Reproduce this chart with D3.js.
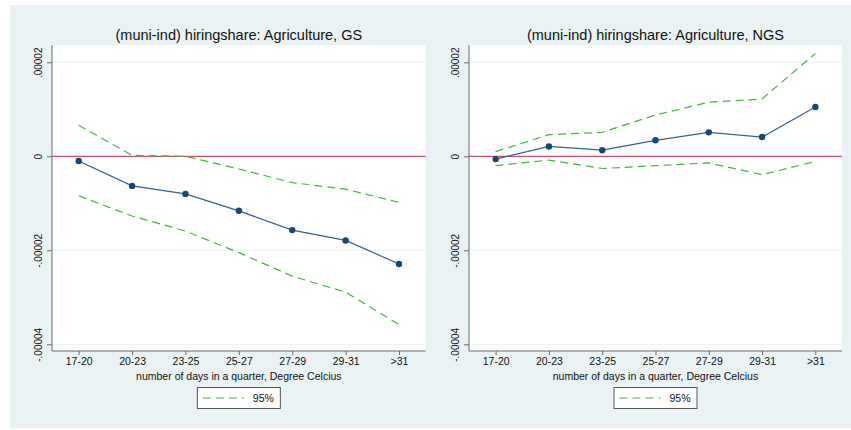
<!DOCTYPE html>
<html>
<head>
<meta charset="utf-8">
<script src="https://cdn.jsdelivr.net/npm/d3@7"></script>
<style>
  body { margin: 0; background: #fff; }
  text { font-family: "Liberation Sans", Arial, sans-serif; fill: #111; }
</style>
</head>
<body>
<div id="chart"></div>
<script>
// categories on the x axis
var categories = ["17-20", "20-23", "23-25", "25-27", "27-29", "29-31", ">31"];

// y ticks
var yTicks = [0.00002, 0, -0.00002, -0.00004];
var yTickLabels = [".00002", "0", "-.00002", "-.00004"];

// GS panel
var gsEstimate = [-0.0000010, -0.0000063, -0.0000080, -0.0000116, -0.0000157, -0.0000179, -0.0000229];
var gsUpper    = [ 0.0000066,  0.0000002,  0.0000000, -0.0000027, -0.0000056, -0.0000070, -0.0000098];
var gsLower    = [-0.0000084, -0.0000127, -0.0000159, -0.0000205, -0.0000255, -0.0000289, -0.0000358];

// NGS panel
var ngsEstimate = [-0.0000006, 0.0000021, 0.0000013, 0.0000034, 0.0000051, 0.0000041, 0.0000105];
var ngsUpper    = [ 0.0000010, 0.0000046, 0.0000051, 0.0000088, 0.0000115, 0.0000122, 0.0000219];
var ngsLower    = [-0.0000020, -0.0000008, -0.0000026, -0.0000020, -0.0000014, -0.0000039, -0.0000011];

var width = 851, height = 430;

var svg = d3.select("#chart").append("svg")
    .attr("width", width)
    .attr("height", height);

// stata style background
svg.append("rect")
    .attr("x", 10).attr("y", 5)
    .attr("width", 841).attr("height", 423)
    .attr("fill", "#eaf2f3");

var plotTop = 45, plotBottom = 351;

var drawPanel = function(options) {

    var left = options.left, right = options.right;
    var g = svg.append("g");

    var x = d3.scalePoint()
        .domain(categories)
        .range([left, right])
        .padding(0.5);

    var y = d3.scaleLinear()
        .domain([-0.00004, 0.00002])
        .range([344.3, 62.3]);

    // plot region
    g.append("rect")
        .attr("x", left).attr("y", plotTop)
        .attr("width", right - left).attr("height", plotBottom - plotTop)
        .attr("fill", "#fff");

    // gridlines
    g.selectAll(".grid")
        .data(yTicks.filter(function(d) { return d !== 0; }))
        .enter().append("line")
        .attr("x1", left).attr("x2", right)
        .attr("y1", function(d) { return y(d); })
        .attr("y2", function(d) { return y(d); })
        .attr("stroke", "#eaf2f3")
        .attr("stroke-width", 1);

    // zero line
    g.append("line")
        .attr("x1", left).attr("x2", right)
        .attr("y1", y(0)).attr("y2", y(0))
        .attr("stroke", "#d2506e")
        .attr("stroke-width", 1.2);

    // y axis
    var yAxis = d3.axisLeft(y)
        .tickValues(yTicks)
        .tickSize(5)
        .tickFormat(function(d, i) { return yTickLabels[i]; });

    var yg = g.append("g")
        .attr("transform", "translate(" + left + ",0)")
        .call(yAxis);
    yg.select(".domain").attr("d", "M0," + plotTop + "V" + plotBottom);
    yg.selectAll("path, line").attr("stroke", "#6b6b6b");
    yg.selectAll(".tick text")
        .attr("font-size", 10)
        .attr("x", 0).attr("dy", 0)
        .attr("text-anchor", "middle")
        .attr("transform", "translate(-10,0) rotate(-90)");

    // x axis
    var xAxis = d3.axisBottom(x).tickSize(4).tickSizeOuter(0);
    var xg = g.append("g")
        .attr("transform", "translate(0," + plotBottom + ")")
        .call(xAxis);
    xg.select(".domain").attr("d", "M" + left + ",0H" + right);
    xg.selectAll("path, line").attr("stroke", "#6b6b6b");
    xg.selectAll(".tick text")
        .attr("font-size", 10.5)
        .attr("y", 7)
        .attr("dy", "0.71em");

    var mid = (left + right) / 2;

    // titles
    g.append("text")
        .attr("x", mid).attr("y", 40)
        .attr("text-anchor", "middle")
        .attr("font-size", 14.5)
        .text(options.title);

    g.append("text")
        .attr("x", mid).attr("y", 380)
        .attr("text-anchor", "middle")
        .attr("font-size", 10.5)
        .text("number of days in a quarter, Degree Celcius");

    var line = d3.line()
        .x(function(d, i) { return x(categories[i]); })
        .y(function(d) { return y(d); });

    // confidence bands
    [options.upper, options.lower].forEach(function(band) {
        g.append("path")
            .attr("d", line(band))
            .attr("fill", "none")
            .attr("stroke", "#4fae48")
            .attr("stroke-width", 1.2)
            .attr("stroke-dasharray", "8,5");
    });

    // point estimate
    g.append("path")
        .attr("d", line(options.estimate))
        .attr("fill", "none")
        .attr("stroke", "#3a5f8a")
        .attr("stroke-width", 1.2);

    g.selectAll(".dot")
        .data(options.estimate)
        .enter().append("circle")
        .attr("cx", function(d, i) { return x(categories[i]); })
        .attr("cy", function(d) { return y(d); })
        .attr("r", 3.2)
        .attr("fill", "#1a476f");

    // legend
    var lg = g.append("g");
    lg.append("rect")
        .attr("x", mid - 41.5).attr("y", 387.5)
        .attr("width", 83).attr("height", 21)
        .attr("fill", "#fff")
        .attr("stroke", "#555")
        .attr("stroke-width", 1);
    lg.append("line")
        .attr("x1", mid - 36).attr("x2", mid + 5)
        .attr("y1", 398).attr("y2", 398)
        .attr("stroke", "#4fae48")
        .attr("stroke-width", 1.2)
        .attr("stroke-dasharray", "8,5");
    lg.append("text")
        .attr("x", mid + 14).attr("y", 402)
        .attr("font-size", 10.5)
        .text("95%");
};

drawPanel({
    left: 52, right: 425.7,
    title: "(muni-ind) hiringshare: Agriculture, GS",
    estimate: gsEstimate, upper: gsUpper, lower: gsLower
});

drawPanel({
    left: 469, right: 842,
    title: "(muni-ind) hiringshare: Agriculture, NGS",
    estimate: ngsEstimate, upper: ngsUpper, lower: ngsLower
});
</script>
</body>
</html>
